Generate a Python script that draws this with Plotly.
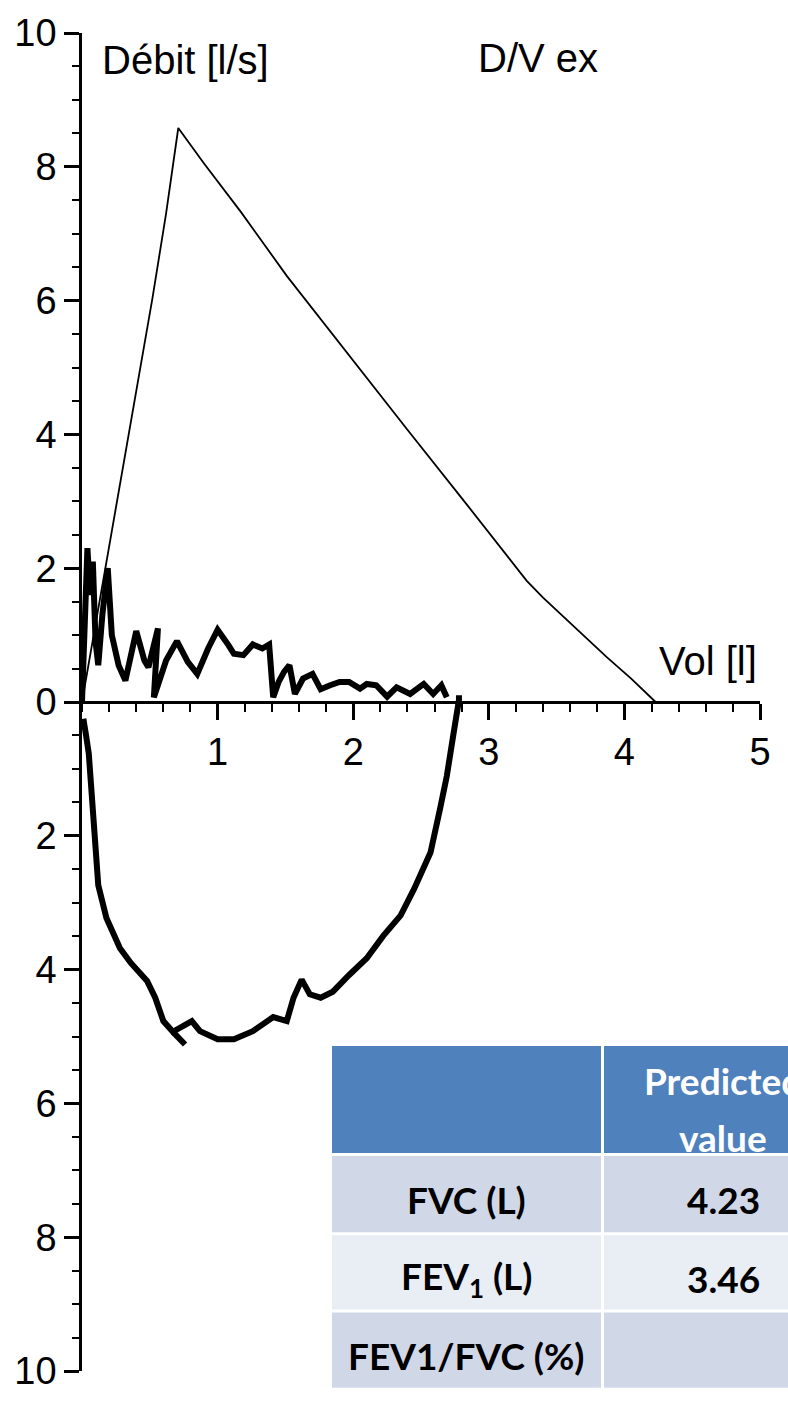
import plotly.graph_objects as go

# ---------------- data ----------------
# predicted (reference) flow-volume curve, thin line
pred_vol = [0.0, 0.10, 0.26, 0.40, 0.52, 0.62, 0.71, 0.90, 1.17, 1.51, 1.95, 2.40, 2.85, 3.28, 3.40, 3.62, 3.87, 4.05, 4.23]
pred_flow = [0.0, 1.15, 3.04, 4.65, 6.04, 7.30, 8.58, 8.05, 7.33, 6.37, 5.23, 4.07, 2.92, 1.81, 1.56, 1.14, 0.67, 0.35, 0.0]

# measured expiratory limb (positive flow), thick line
exp_vol = [0.0, 0.02, 0.04, 0.06, 0.08, 0.10, 0.12, 0.15, 0.19, 0.22, 0.27, 0.32, 0.40, 0.46, 0.49, 0.56, 0.53,
           0.62, 0.70, 0.78, 0.85, 0.93, 1.00, 1.08, 1.12, 1.19, 1.26, 1.33, 1.38, 1.41, 1.45, 1.49, 1.53, 1.57,
           1.63, 1.70, 1.76, 1.83, 1.90, 1.97, 2.05, 2.10, 2.17, 2.25, 2.32, 2.42, 2.52, 2.59, 2.65, 2.69]
exp_flow = [0.0, 1.3, 2.3, 1.6, 2.1, 0.9, 0.55, 1.3, 2.0, 1.0, 0.55, 0.32, 1.06, 0.62, 0.52, 1.10, 0.07,
            0.62, 0.91, 0.60, 0.42, 0.80, 1.08, 0.85, 0.72, 0.70, 0.86, 0.80, 0.86, 0.07, 0.30, 0.45, 0.55, 0.12,
            0.35, 0.42, 0.19, 0.25, 0.30, 0.30, 0.20, 0.27, 0.25, 0.08, 0.22, 0.12, 0.27, 0.12, 0.25, 0.07]

# measured inspiratory limb (negative flow), thick line; None splits off the small tail at the hook
insp_vol = [2.78, 2.78, 2.74, 2.69, 2.64, 2.57, 2.45, 2.35, 2.22, 2.10, 1.97, 1.85, 1.76, 1.68, 1.62, 1.56,
            1.51, 1.41, 1.26, 1.12, 1.00, 0.87, 0.81, 0.74, 0.67, 0.60, 0.54, 0.48, 0.43, 0.36, 0.28, 0.18,
            0.12, 0.10, 0.08, 0.07, 0.05, 0.03, 0.01, None, 0.67, 0.72, 0.76]
insp_flow = [0.10, 0.03, -0.47, -1.11, -1.60, -2.25, -2.79, -3.19, -3.50, -3.83, -4.08, -4.33, -4.42, -4.37, -4.15, -4.42,
             -4.77, -4.71, -4.92, -5.04, -5.04, -4.92, -4.77, -4.86, -4.93, -4.77, -4.42, -4.17, -4.07, -3.90, -3.68, -3.23,
             -2.74, -2.15, -1.50, -1.16, -0.77, -0.50, -0.25, None, -4.93, -5.02, -5.12]

# axis ticks
y_tickvals = [-10, -8, -6, -4, -2, 0, 2, 4, 6, 8, 10]
y_ticktext = ["10", "8", "6", "4", "2", "0", "2", "4", "6", "8", "10"]
x_tickvals = [1, 2, 3, 4, 5]
x_ticktext = ["1", "2", "3", "4", "5"]

# table
table_header = ["", "Predicted", "value"]
table_rows = ["FVC (L)", "FEV<sub>1</sub> (L)", "FEV1/FVC (%)"]
table_pred = ["4.23", "3.46", ""]

# ---------------- figure ----------------
W, H = 788, 1404
ML, MR, MT, MB = 82, 28, 30, 24
PW, PH = W - ML - MR, H - MT - MB


def px(x):
    return (x - ML) / PW


def py(y):
    return (H - MB - y) / PH


fig = go.Figure()
fig.add_trace(go.Scatter(x=pred_vol, y=pred_flow, mode="lines",
                         line=dict(color="black", width=1.8), hoverinfo="skip"))
fig.add_trace(go.Scatter(x=exp_vol, y=exp_flow, mode="lines",
                         line=dict(color="black", width=6), hoverinfo="skip"))
fig.add_trace(go.Scatter(x=insp_vol, y=insp_flow, mode="lines", connectgaps=False,
                         line=dict(color="black", width=6), hoverinfo="skip"))

axis_font = dict(family="Liberation Sans, Arial, sans-serif", size=38, color="black")

fig.update_layout(
    width=W, height=H,
    margin=dict(l=ML, r=MR, t=MT, b=MB, pad=0),
    paper_bgcolor="white", plot_bgcolor="white",
    showlegend=False,
    xaxis=dict(range=[0, 5], anchor="free", position=0.5, showgrid=False, zeroline=False,
               showline=True, linecolor="black", linewidth=2.5,
               tickmode="array", tickvals=x_tickvals, ticktext=x_ticktext,
               ticks="outside", ticklen=16, tickwidth=2.5, tickcolor="black",
               minor=dict(tickmode="linear", tick0=0, dtick=0.2, ticks="outside", ticklen=8,
                          tickwidth=2, tickcolor="black"),
               tickfont=axis_font),
    yaxis=dict(range=[-10, 10], showgrid=False, zeroline=False,
               showline=True, linecolor="black", linewidth=2.5,
               tickmode="array", tickvals=y_tickvals, ticktext=y_ticktext,
               ticks="outside", ticklen=15, tickwidth=2.5, tickcolor="black",
               minor=dict(tickmode="linear", tick0=0, dtick=0.5, ticks="outside", ticklen=7,
                          tickwidth=2, tickcolor="black"),
               tickfont=axis_font),
)

label_font = dict(family="Liberation Sans, Arial, sans-serif", size=40, color="black")
fig.add_annotation(text="Débit [l/s]", x=px(100), y=py(57), xref="paper", yref="paper",
                   xanchor="left", yanchor="middle", showarrow=False, font=label_font)
fig.add_annotation(text="D/V ex", x=px(476), y=py(55), xref="paper", yref="paper",
                   xanchor="left", yanchor="middle", showarrow=False, font=label_font)
fig.add_annotation(text="Vol [l]", x=px(657), y=py(664), xref="paper", yref="paper",
                   xanchor="left", yanchor="middle", showarrow=False, font=label_font)

# ---------------- table (shapes + annotations) ----------------
col_x = [(332, 601), (604, 842)]
row_y = [(1052, 1160), (1163, 1240), (1243, 1318), (1321, 1397)]
row_fill = ["#4F81BD", "#D0D8E8", "#E9EDF4", "#D0D8E8"]
for r, (y0, y1) in enumerate(row_y):
    for (x0, x1) in col_x:
        fig.add_shape(type="rect", xref="paper", yref="paper",
                      x0=px(x0), x1=px(x1), y0=py(y1), y1=py(y0),
                      fillcolor=row_fill[r], line=dict(width=0), layer="above")

cell_font = dict(family="Lato, sans-serif", size=37, color="black", weight="bold")
head_font = dict(family="Lato, sans-serif", size=37, color="white", weight="bold")
c1 = (col_x[0][0] + col_x[0][1]) / 2
c2 = 723
fig.add_annotation(text="<b>%s</b>" % table_header[1], x=px(c2), y=py(1087), xref="paper", yref="paper",
                   xanchor="center", yanchor="middle", showarrow=False, font=head_font)
fig.add_annotation(text="<b>%s</b>" % table_header[2], x=px(c2), y=py(1144), xref="paper", yref="paper",
                   xanchor="center", yanchor="middle", showarrow=False, font=head_font)
row_centers = [1207, 1287, 1364]
for lab, val, yc in zip(table_rows, table_pred, row_centers):
    fig.add_annotation(text="<b>%s</b>" % lab, x=px(c1), y=py(yc), xref="paper", yref="paper",
                       xanchor="center", yanchor="middle", showarrow=False, font=cell_font)
    if val:
        fig.add_annotation(text="<b>%s</b>" % val, x=px(c2), y=py(yc), xref="paper", yref="paper",
                           xanchor="center", yanchor="middle", showarrow=False, font=cell_font)

fig.write_html("out.html", config={"displayModeBar": False},
               post_script="document.body.style.margin='0';")
